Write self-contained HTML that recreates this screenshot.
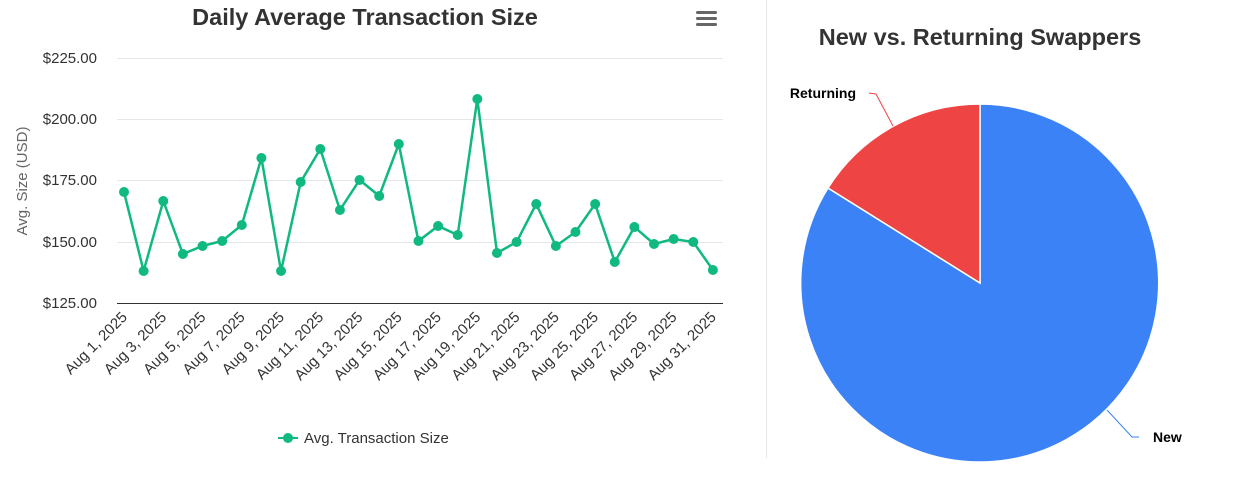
<!DOCTYPE html>
<html><head><meta charset="utf-8"><style>
body{margin:0;background:#fff;width:1243px;height:492px;overflow:hidden;font-family:"Liberation Sans",sans-serif}
</style></head><body>
<svg width="1243" height="492" xmlns="http://www.w3.org/2000/svg" font-family="Liberation Sans, sans-serif">
<line x1="766.5" y1="0" x2="766.5" y2="458" stroke="#e6e6e6"/>
<text x="365" y="25" text-anchor="middle" font-size="23.5" font-weight="bold" fill="#333">Daily Average Transaction Size</text>
<g fill="#666"><rect x="696" y="11" width="21" height="3" rx="1.5"/><rect x="696" y="17" width="21" height="3" rx="1.5"/><rect x="696" y="23" width="21" height="3" rx="1.5"/></g>
<g stroke="#e6e6e6"><line x1="117" y1="58.5" x2="723" y2="58.5"/><line x1="117" y1="119.5" x2="723" y2="119.5"/><line x1="117" y1="180.5" x2="723" y2="180.5"/><line x1="117" y1="242.5" x2="723" y2="242.5"/></g>
<line x1="117" y1="303.5" x2="723" y2="303.5" stroke="#333"/>
<g font-size="15" fill="#333" text-anchor="end"><text x="97" y="63">$225.00</text><text x="97" y="124">$200.00</text><text x="97" y="185">$175.00</text><text x="97" y="247">$150.00</text><text x="97" y="308">$125.00</text></g>
<text transform="translate(27,181) rotate(-90)" text-anchor="middle" font-size="15" fill="#666">Avg. Size (USD)</text>
<g id="s"></g>
<g id="xl" font-size="15" fill="#333" text-anchor="end"></g>
<line x1="278" y1="438" x2="298" y2="438" stroke="#10b981" stroke-width="2"/><circle cx="288" cy="438" r="5" fill="#10b981"/>
<text x="304" y="443" font-size="15" fill="#333">Avg. Transaction Size</text>
<text x="980" y="45" text-anchor="middle" font-size="23.5" font-weight="bold" fill="#333">New vs. Returning Swappers</text>
<path d="M980,283 L980,104 A179,179 0 1 1 828,188 Z" fill="#3b82f6" stroke="#fff" stroke-width="1.5"/>
<path d="M980,283 L828,188 A179,179 0 0 1 980,104 Z" fill="#ef4444" stroke="#fff" stroke-width="1.5"/>
<path d="M893,126 L876,94 L869,93" fill="none" stroke="#ef4444"/>
<path d="M1107,410 L1132,437 L1139,437" fill="none" stroke="#3b82f6"/>
<text x="856" y="98" text-anchor="end" font-size="14" font-weight="bold" fill="#000">Returning</text>
<text x="1153" y="442" font-size="14" font-weight="bold" fill="#000">New</text>
</svg>
<script>
var ys=[192,271,201,254,246,241,225,158,271,182,149,210,180,196,144,241,226,235,99,253,242,204,246,232,204,262,227,244,239,242,270];
var s=document.getElementById('s'),ns="http://www.w3.org/2000/svg",pts=[];
ys.forEach(function(y,i){pts.push((124+i*19.63).toFixed(1)+','+y)});
var pl=document.createElementNS(ns,'polyline');pl.setAttribute('points',pts.join(' '));pl.setAttribute('fill','none');pl.setAttribute('stroke','#10b981');pl.setAttribute('stroke-width','2.5');s.appendChild(pl);
ys.forEach(function(y,i){var c=document.createElementNS(ns,'circle');c.setAttribute('cx',124+i*19.63);c.setAttribute('cy',y);c.setAttribute('r',5);c.setAttribute('fill','#10b981');s.appendChild(c)});
var xl=document.getElementById('xl');
for(var d=1;d<=31;d+=2){var x=124+(d-1)*19.63+4,t=document.createElementNS(ns,'text');t.setAttribute('transform','translate('+x+',318) rotate(-45)');t.textContent='Aug '+d+', 2025';xl.appendChild(t)}
</script>
</body></html>
